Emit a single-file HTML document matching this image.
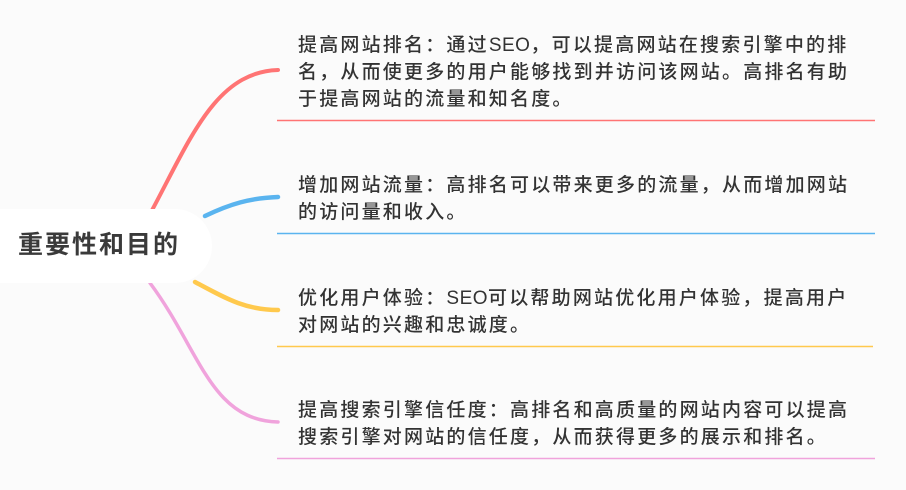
<!DOCTYPE html>
<html><head><meta charset="utf-8"><style>
html,body{margin:0;padding:0;background:#fbfbfb;width:906px;height:490px;overflow:hidden}
.t{position:absolute;left:298px;font-family:"Liberation Sans","Noto Sans CJK SC",sans-serif;font-size:19px;font-weight:500;letter-spacing:2.2px;line-height:27px;color:#333;white-space:nowrap}
.t span{letter-spacing:0.5px}
.c{position:absolute;left:18px;top:225px;font-family:"Liberation Sans","Noto Sans CJK SC",sans-serif;font-size:25px;font-weight:bold;color:#3a3a3a;letter-spacing:2px;white-space:nowrap}
</style></head><body>
<svg width="906" height="490" style="position:absolute;left:0;top:0">
<g fill="none" stroke-linecap="round">
<path d="M150,214 C190,140 215,72 278,70" stroke="#ff7474" stroke-width="4"/>
<path d="M205,216 C230,204 250,198 278,197" stroke="#5ab4ef" stroke-width="4.5"/>
<path d="M195,282 C225,298 245,310 278,310" stroke="#ffc94d" stroke-width="4.5"/>
<path d="M150,283 C200,350 210,420 278,422" stroke="#f0a3dc" stroke-width="3.5"/>
</g>
<rect x="-40" y="209" width="252" height="74" rx="37" fill="#fff"/>
<g stroke-width="1.5">
<line x1="277" y1="120.5" x2="875" y2="120.5" stroke="#ff7474"/>
<line x1="277" y1="233.5" x2="875" y2="233.5" stroke="#5ab4ef"/>
<line x1="277" y1="346.5" x2="873" y2="346.5" stroke="#ffc94d"/>
<line x1="277" y1="458.5" x2="875" y2="458.5" stroke="#f0a3dc"/>
</g>
</svg>
<div class="c">重要性和目的</div>
<div class="t" style="top:32px">提高网站排名：通过<span>SEO</span>，可以提高网站在搜索引擎中的排<br>名，从而使更多的用户能够找到并访问该网站。高排名有助<br>于提高网站的流量和知名度。</div>
<div class="t" style="top:172px">增加网站流量：高排名可以带来更多的流量，从而增加网站<br>的访问量和收入。</div>
<div class="t" style="top:285px">优化用户体验：<span>SEO</span>可以帮助网站优化用户体验，提高用户<br>对网站的兴趣和忠诚度。</div>
<div class="t" style="top:397px">提高搜索引擎信任度：高排名和高质量的网站内容可以提高<br>搜索引擎对网站的信任度，从而获得更多的展示和排名。</div>
</body></html>
